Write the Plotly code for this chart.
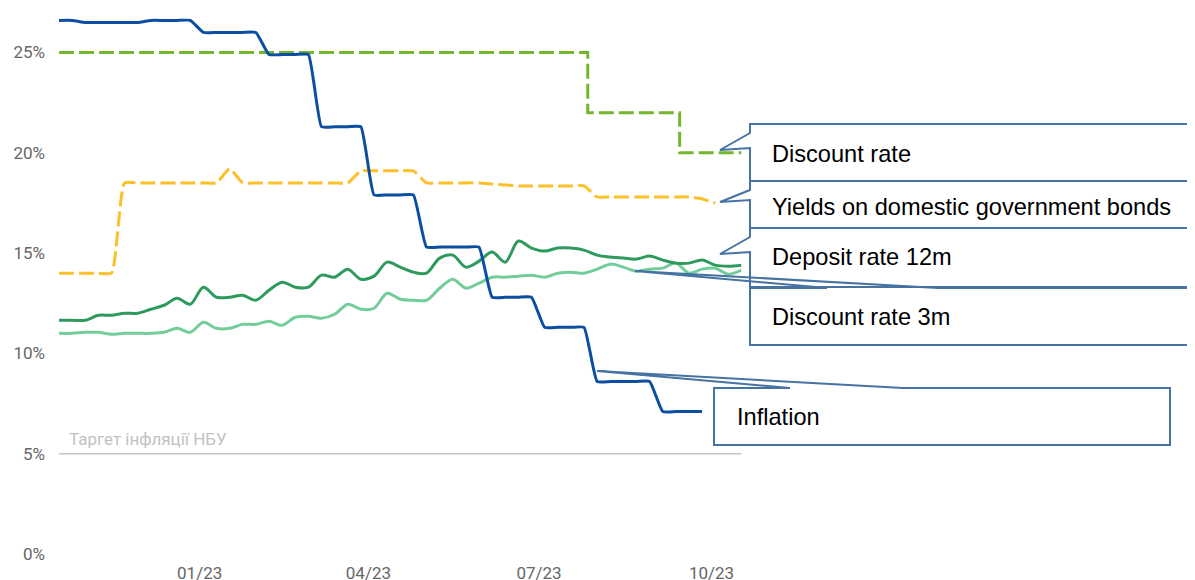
import pandas as pd
import plotly.graph_objects as go

# weekly observation dates (Tuesdays), Oct 2022 - Oct 2023
weeks = pd.date_range("2022-10-18", periods=53, freq="7D")

# CPI y/y, monthly value held for each week (ends late Sep 2023)
inflation = [
    26.6, 26.6, 26.5, 26.5, 26.5, 26.5, 26.5, 26.6, 26.6, 26.6,
    26.6, 26.0, 26.0, 26.0, 26.0, 26.0, 24.9, 24.9, 24.9, 24.9,
    21.3, 21.3, 21.3, 21.3, 17.9, 17.9, 17.9, 17.9, 15.3, 15.3,
    15.3, 15.3, 15.3, 12.8, 12.8, 12.8, 12.8, 11.3, 11.3, 11.3,
    11.3, 8.6, 8.6, 8.6, 8.6, 8.6, 7.1, 7.1, 7.1, 7.1,
]

# yields on domestic government bonds (ends early Oct 2023)
bond_yields = [
    14.0, 14.0, 14.0, 14.0, 14.0, 18.5, 18.5, 18.5, 18.5, 18.5,
    18.5, 18.5, 18.5, 19.2, 18.5, 18.5, 18.5, 18.5, 18.5, 18.5,
    18.5, 18.5, 18.5, 19.1, 19.1, 19.1, 19.1, 19.1, 18.5, 18.5,
    18.5, 18.5, 18.5, 18.45, 18.4, 18.35, 18.35, 18.35, 18.35, 18.35,
    18.35, 17.8, 17.8, 17.8, 17.8, 17.8, 17.8, 17.8, 17.8, 17.7,
    17.5,
]

deposit_12m = [
    11.65, 11.65, 11.65, 11.9, 11.9, 12.0, 12.0, 12.2, 12.4, 12.75,
    12.45, 13.3, 12.8, 12.8, 12.9, 12.65, 13.15, 13.55, 13.3, 13.3,
    13.9, 13.8, 14.2, 13.7, 13.85, 14.55, 14.3, 14.05, 14.0, 14.75,
    14.9, 14.3, 14.6, 15.05, 14.55, 15.6, 15.25, 15.1, 15.25, 15.25,
    15.15, 14.9, 14.8, 14.75, 14.7, 14.85, 14.65, 14.5, 14.5, 14.65,
    14.4, 14.35, 14.4,
]

discount_3m = [
    11.0, 11.0, 11.05, 11.05, 10.95, 11.0, 11.0, 11.0, 11.05, 11.25,
    11.05, 11.55, 11.25, 11.25, 11.45, 11.45, 11.6, 11.4, 11.8, 11.85,
    11.75, 11.95, 12.45, 12.2, 12.25, 13.0, 12.7, 12.65, 12.65, 13.25,
    13.7, 13.25, 13.5, 13.8, 13.8, 13.85, 13.9, 13.8, 14.0, 14.05,
    14.0, 14.2, 14.45, 14.3, 14.1, 14.2, 14.25, 14.5, 14.0, 14.2,
    14.25, 13.95, 14.15,
]

# NBU key policy rate, value from each decision date
key_rate_dates = ["2022-10-18", "2023-07-27", "2023-09-14", "2023-10-17"]
key_rate = [25.0, 22.0, 20.0, 20.0]

inflation_target = 5.0
y_ticks = [0, 5, 10, 15, 20, 25]
y_tick_text = ["0%", "5%", "10%", "15%", "20%", "25%"]
x_tick_dates = ["2023-01-01", "2023-04-01", "2023-07-01", "2023-10-01"]
x_tick_text = ["01/23", "04/23", "07/23", "10/23"]

C_INFL = "#0b4ea2"
C_KEY = "#74b72e"
C_YLD = "#fcc02a"
C_DEP = "#2e9a5d"
C_3M = "#72cd9b"
C_CALLOUT = "#4673a2"

# page body has an 8px margin, so the figure is drawn 8px smaller and
# everything is laid out in "window" pixels minus that offset
OFF = 8
W, H = 1195 - OFF, 580 - OFF
ML, MB, MT = 59 - OFF, 26, 0
PLOT_H = H - MB - MT
PX_PER_PCT = 20.06


def px(x, y):
    # window pixel position -> paper coords
    return (x - OFF - ML) / (W - ML), (H - MB - (y - OFF)) / PLOT_H


def path(points):
    parts = []
    for i, (x, y) in enumerate(points):
        X, Y = px(x, y)
        parts.append(("M" if i == 0 else "L") + f"{X:.5f},{Y:.5f}")
    return " ".join(parts) + " Z"


fig = go.Figure()

fig.add_hline(y=inflation_target, line=dict(color="#c4c4c4", width=1.5), layer="below")

fig.add_trace(go.Scatter(
    x=weeks[:len(discount_3m)], y=discount_3m, mode="lines",
    line=dict(color=C_3M, width=3, shape="spline", smoothing=0.9),
))
fig.add_trace(go.Scatter(
    x=weeks[:len(deposit_12m)], y=deposit_12m, mode="lines",
    line=dict(color=C_DEP, width=3, shape="spline", smoothing=0.9),
))
fig.add_trace(go.Scatter(
    x=weeks[:len(bond_yields)], y=bond_yields, mode="lines",
    line=dict(color=C_YLD, width=3, dash="15px,5px", shape="spline", smoothing=0.5),
))
fig.add_trace(go.Scatter(
    x=key_rate_dates, y=key_rate, mode="lines",
    line=dict(color=C_KEY, width=3, dash="15px,5px", shape="hv"),
))
fig.add_trace(go.Scatter(
    x=weeks[:len(inflation)], y=inflation, mode="lines",
    line=dict(color=C_INFL, width=3, shape="spline", smoothing=0.4),
))

# callout boxes (PowerPoint-style wedge rectangles), window pixels
callouts = [
    [(1210, 124), (750, 124), (750, 133), (720, 150), (750, 148), (750, 181), (1210, 181)],
    [(1210, 181), (750, 181), (750, 190), (720, 202), (750, 200), (750, 228), (1210, 228)],
    [(1210, 228), (750, 228), (750, 237), (720, 254), (750, 252), (750, 287), (1210, 287)],
    [(750, 288), (827, 288), (635, 271), (938, 288), (1210, 288), (1210, 345), (750, 345)],
    [(714, 388), (790, 388), (597, 371), (903, 388), (1170, 388), (1170, 445), (714, 445)],
]
for pts in callouts:
    fig.add_shape(type="path", path=path(pts), xref="paper", yref="paper",
                  line=dict(color=C_CALLOUT, width=2), fillcolor="rgba(0,0,0,0)")

labels = [
    ("Discount rate", 770, 154),
    ("Yields on domestic government bonds", 770, 207),
    ("Deposit rate 12m", 770, 257),
    ("Discount rate 3m", 770, 317),
    ("Inflation", 735, 417),
]
for text, lx, ly in labels:
    X, Y = px(lx, ly)
    fig.add_annotation(x=X, y=Y, xref="paper", yref="paper", text=text,
                       showarrow=False, xanchor="left", yanchor="middle",
                       font=dict(family="Liberation Sans, Arial", size=23.6, color="black"))

fig.add_annotation(x=0.011, y=inflation_target, xref="x domain", yref="y",
                   text="Таргет інфляції НБУ", showarrow=False,
                   xanchor="left", yanchor="middle", yshift=15,
                   font=dict(family="Roboto", size=17, color="#c2c2c2"))

fig.update_layout(
    width=W, height=H,
    margin=dict(l=ML, r=0, t=MT, b=MB, autoexpand=False),
    plot_bgcolor="white", paper_bgcolor="white",
    showlegend=False,
    font=dict(family="Roboto", size=17, color="#666666"),
    xaxis=dict(
        type="date",
        domain=[0, 682.5 / (W - ML)],
        range=["2022-10-18", "2023-10-17"],
        tickvals=x_tick_dates, ticktext=x_tick_text,
        showgrid=False, zeroline=False, showline=False,
        ticklabelstandoff=7,
    ),
    yaxis=dict(
        range=[0, PLOT_H / PX_PER_PCT],
        tickvals=y_ticks, ticktext=y_tick_text,
        showgrid=False, zeroline=False, showline=False,
        ticklabelstandoff=13,
    ),
)

fig.write_html("out.html")
